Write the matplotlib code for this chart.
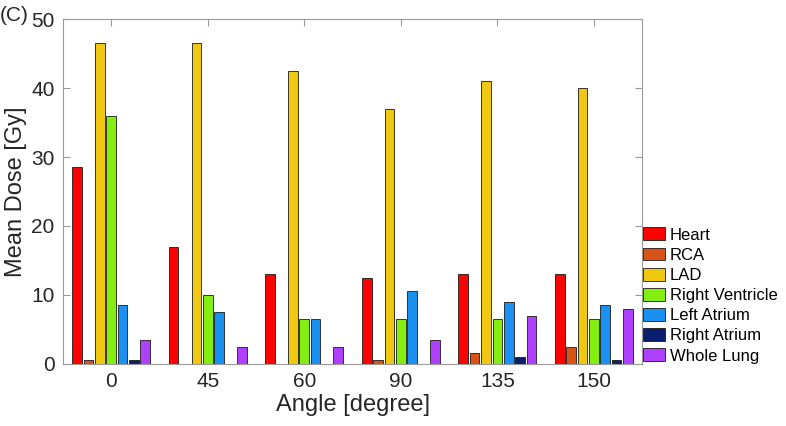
import numpy as np
import matplotlib
matplotlib.use("Agg")
import matplotlib.pyplot as plt

angles = ["0", "45", "60", "90", "135", "150"]
structures = ["Heart", "RCA", "LAD", "Right Ventricle", "Left Atrium", "Right Atrium", "Whole Lung"]

heart = [28.5, 17, 13, 12.5, 13, 13]
rca = [0.5, 0, 0, 0.5, 1.5, 2.5]
lad = [46.5, 46.5, 42.5, 37, 41, 40]
right_ventricle = [36, 10, 6.5, 6.5, 6.5, 6.5]
left_atrium = [8.5, 7.5, 6.5, 10.5, 9, 8.5]
right_atrium = [0.5, 0, 0, 0, 1, 0.5]
whole_lung = [3.5, 2.5, 2.5, 3.5, 7, 8]

series = [heart, rca, lad, right_ventricle, left_atrium, right_atrium, whole_lung]
colors = ["#ff0000", "#d95319", "#f0c80f", "#84ee10", "#1a90f0", "#0a1e6e", "#b040ff"]

plt.rcParams['font.family'] = ['Liberation Sans', 'DejaVu Sans']
txt = "#262626"
axcol = "#9a9a9a"

fig = plt.figure(figsize=(7.86, 4.26), dpi=100)
ax = fig.add_axes([0.080, 0.146, 0.737, 0.809])

x = np.arange(1, len(angles) + 1)
n = len(series)
step = 0.8235 / n
w = 0.1
for i, (vals, c, name) in enumerate(zip(series, colors, structures)):
    ax.bar(x + (i - (n - 1) / 2) * step, vals, width=w, color=c,
           edgecolor="#1a1a1a", linewidth=0.6, label=name, zorder=2)

ax.set_xlim(0.5, 6.5)
ax.set_ylim(0, 50)
ax.set_xticks(x)
ax.set_xticklabels(angles)
ax.set_yticks([0, 10, 20, 30, 40, 50])
ax.tick_params(direction="in", length=5, width=0.8, colors=axcol,
               labelcolor=txt, labelsize=15, top=True, right=True, pad=6)
for s in ax.spines.values():
    s.set_color(axcol)
    s.set_linewidth(0.8)

ax.set_xlabel("Angle [degree]", fontsize=17, color=txt, labelpad=2)
ax.set_ylabel("Mean Dose [Gy]", fontsize=17, color=txt, labelpad=3)

fig.text(0.0, 0.985, "(C)", fontsize=15, color=txt, ha="left", va="top")

fig.legend(loc="upper left", bbox_to_anchor=(0.818, 0.466), frameon=False,
           fontsize=12, handlelength=1.35, handleheight=0.8,
           handletextpad=0.25, labelspacing=0.3, borderpad=0, borderaxespad=0)

fig.savefig("out.png", dpi=100)
